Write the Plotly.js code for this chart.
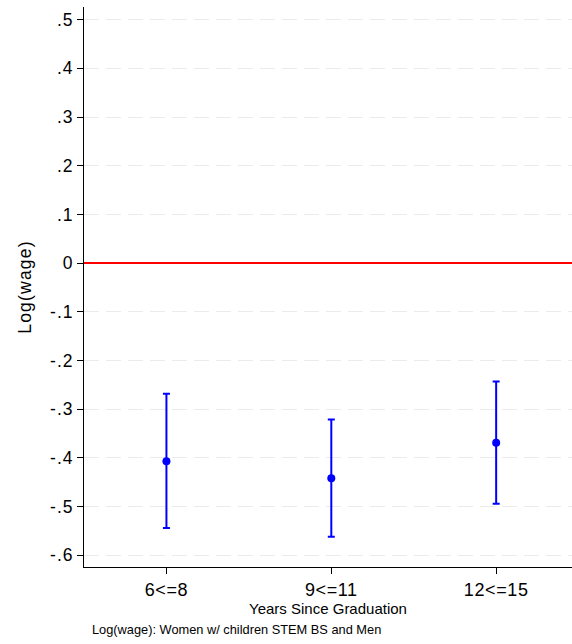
<!DOCTYPE html>
<html>
<head>
<meta charset="utf-8">
<script src="https://cdn.plot.ly/plotly-3.0.1.min.js"></script>
<style>
html,body{margin:0;padding:0;background:#fff;}
#chart{width:572px;height:644px;}
#chart .ytick text{letter-spacing:1px;}
#chart .xtick text{letter-spacing:0.6px;}
#chart .ytitle{letter-spacing:1.2px;}
</style>
</head>
<body>
<div id="chart"></div>
<script>
var categories = ["6<=8", "9<=11", "12<=15"];
var estimates = [-0.407, -0.4415, -0.369];
var upperCI = [-0.268, -0.321, -0.243];
var lowerCI = [-0.544, -0.562, -0.494];
var yTickVals = [0.5, 0.4, 0.3, 0.2, 0.1, 0, -0.1, -0.2, -0.3, -0.4, -0.5, -0.6];
var yTickText = [".5", ".4", ".3", ".2", ".1", "0", "-.1", "-.2", "-.3", "-.4", "-.5", "-.6"];

var FONT = "Liberation Sans, Arial, sans-serif";

var trace = {
  type: "scatter",
  mode: "markers",
  x: categories,
  y: estimates,
  marker: {color: "#0000ff", size: 8},
  error_y: {
    type: "data",
    symmetric: false,
    array: upperCI.map(function(u, i){ return u - estimates[i]; }),
    arrayminus: lowerCI.map(function(l, i){ return estimates[i] - l; }),
    color: "#0000ff",
    thickness: 2,
    width: 3.5
  },
  hoverinfo: "x+y",
  showlegend: false
};

var layout = {
  width: 572,
  height: 644,
  margin: {l: 84, r: 0, t: 7, b: 77},
  paper_bgcolor: "#ffffff",
  plot_bgcolor: "#ffffff",
  font: {family: FONT, color: "#000000"},
  xaxis: {
    type: "category",
    range: [-0.5, 2.46],
    showline: true,
    linecolor: "#000000",
    linewidth: 1,
    ticks: "outside",
    ticklen: 6,
    tickcolor: "#000000",
    tickfont: {size: 18, family: FONT},
    showgrid: false,
    zeroline: false,
    title: {text: "Years Since Graduation", font: {size: 15, family: FONT}, standoff: 3},
    automargin: false
  },
  yaxis: {
    range: [-0.624, 0.526],
    tickvals: yTickVals,
    ticktext: yTickText,
    showline: true,
    linecolor: "#000000",
    linewidth: 1,
    ticks: "outside",
    ticklen: 6,
    tickcolor: "#000000",
    tickfont: {size: 17.5, family: FONT},
    showgrid: true,
    gridcolor: "#ebebeb",
    gridwidth: 1,
    griddash: "15px,7px",
    zeroline: true,
    zerolinecolor: "#ff0000",
    zerolinewidth: 1.5,
    title: {text: "Log(wage)", font: {size: 17.5, family: FONT}, standoff: 16},
    automargin: false
  },
  annotations: [{
    text: "Log(wage): Women w/ children STEM BS and Men",
    xref: "paper", yref: "paper",
    x: 0.012, y: -0.111,
    xanchor: "left", yanchor: "middle",
    showarrow: false,
    font: {size: 12.8, family: FONT, color: "#000000"}
  }]
};

Plotly.newPlot("chart", [trace], layout, {displayModeBar: false, staticPlot: true});
</script>
</body>
</html>
